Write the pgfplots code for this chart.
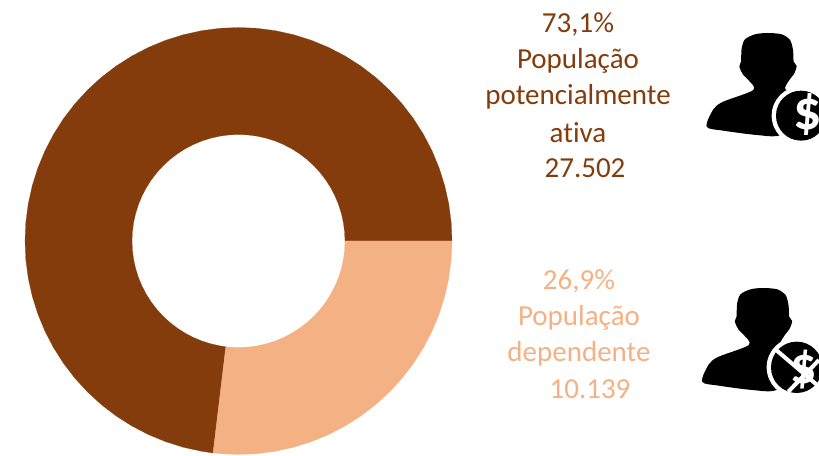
\documentclass[border=0pt]{standalone}
\usepackage{pgfplots}
\pgfplotsset{compat=1.18}
\usepackage{fontspec}
\setmainfont{Carlito}[Ligatures=NoCommon]
\definecolor{dk}{HTML}{843C0C}
\definecolor{lt}{HTML}{F4B183}
% icon drawn in 3x zoom units; #1,#2 = image pixel origin in axis coordinates
\newcommand{\person}[2]{%
\begin{scope}[shift={(axis cs:#1,#2)},x=0.3333pt,y=-0.3333pt]
\fill[black] plot[smooth cycle,tension=0.5] coordinates {(232,39)(275,43)(300,60)(309,90)(311,125)(320,138)(312,162)(298,180)(286,208)(330,225)(340,300)(270,346)(200,345)(100,332)(50,320)(70,268)(100,245)(190,210)(175,180)(160,165)(148,140)(153,125)(155,85)(165,58)(195,43)};
\end{scope}}
\begin{document}
\begin{tikzpicture}
\begin{axis}[width=819pt,height=455pt,scale only axis,hide axis,
  xmin=-238.5,xmax=580.5,ymin=-214,ymax=241,clip=true]
\path (rel axis cs:0,0) rectangle (rel axis cs:1,1);
% 73,1 %
\addplot[fill=dk,draw=dk,line width=0.2pt,data cs=polar] coordinates {
(0,213.5)(5,213.5)(10,213.5)(15,213.5)(20,213.5)(25,213.5)(30,213.5)(35,213.5)(40,213.5)(45,213.5)(50,213.5)(55,213.5)(60,213.5)(65,213.5)(70,213.5)(75,213.5)(80,213.5)(85,213.5)(90,213.5)(95,213.5)(100,213.5)(105,213.5)(110,213.5)(115,213.5)(120,213.5)(125,213.5)(130,213.5)(135,213.5)(140,213.5)(145,213.5)(150,213.5)(155,213.5)(160,213.5)(165,213.5)(170,213.5)(175,213.5)(180,213.5)(185,213.5)(190,213.5)(195,213.5)(200,213.5)(205,213.5)(210,213.5)(215,213.5)(220,213.5)(225,213.5)(230,213.5)(235,213.5)(240,213.5)(245,213.5)(250,213.5)(255,213.5)(260,213.5)(263.16,213.5)
(263.16,106.5)(260,106.5)(255,106.5)(250,106.5)(245,106.5)(240,106.5)(235,106.5)(230,106.5)(225,106.5)(220,106.5)(215,106.5)(210,106.5)(205,106.5)(200,106.5)(195,106.5)(190,106.5)(185,106.5)(180,106.5)(175,106.5)(170,106.5)(165,106.5)(160,106.5)(155,106.5)(150,106.5)(145,106.5)(140,106.5)(135,106.5)(130,106.5)(125,106.5)(120,106.5)(115,106.5)(110,106.5)(105,106.5)(100,106.5)(95,106.5)(90,106.5)(85,106.5)(80,106.5)(75,106.5)(70,106.5)(65,106.5)(60,106.5)(55,106.5)(50,106.5)(45,106.5)(40,106.5)(35,106.5)(30,106.5)(25,106.5)(20,106.5)(15,106.5)(10,106.5)(5,106.5)(0,106.5)} --cycle;
% 26,9 %
\addplot[fill=lt,draw=lt,line width=0.2pt,data cs=polar] coordinates {
(263.16,213.5)(265,213.5)(270,213.5)(275,213.5)(280,213.5)(285,213.5)(290,213.5)(295,213.5)(300,213.5)(305,213.5)(310,213.5)(315,213.5)(320,213.5)(325,213.5)(330,213.5)(335,213.5)(340,213.5)(345,213.5)(350,213.5)(355,213.5)(360,213.5)
(360,106.5)(355,106.5)(350,106.5)(345,106.5)(340,106.5)(335,106.5)(330,106.5)(325,106.5)(320,106.5)(315,106.5)(310,106.5)(305,106.5)(300,106.5)(295,106.5)(290,106.5)(285,106.5)(280,106.5)(275,106.5)(270,106.5)(265,106.5)(263.16,106.5)} --cycle;
% texts (x = px-238.5, y = 241-px)
\pgfkeys{/tikz/lab/.style={font=\fontsize{29}{29}\selectfont,inner sep=0pt,anchor=center}}
\node[lab,text=dk] at (axis cs:339.5,216.5) {73,1\%};
\node[lab,text=dk] at (axis cs:339.5,180.5) {População};
\node[lab,text=dk] at (axis cs:339.5,144.5) {potencialmente};
\node[lab,text=dk] at (axis cs:339.5,108.5) {ativa};
\node[lab,text=dk] at (axis cs:346.5,72.5) {27.502};
\node[lab,text=lt] at (axis cs:340.5,-40.5) {26,9\%};
\node[lab,text=lt] at (axis cs:340.5,-76.5) {População};
\node[lab,text=lt] at (axis cs:340.5,-112.5) {dependente};
\node[lab,text=lt] at (axis cs:351.5,-148) {10.139};
% icons
\person{451.5}{221}
\begin{scope}[shift={(axis cs:451.5,221)},x=0.3333pt,y=-0.3333pt]
\fill[white] (333,287) circle[radius=88];
\fill[black] (333,287) circle[radius=75];
\node[text=white,font=\bfseries\fontsize{56}{56}\selectfont,inner sep=0pt] at (352,285) {\$};
\end{scope}
\person{447}{-34}
\begin{scope}[shift={(axis cs:451.5,-34)},x=0.3333pt,y=-0.3333pt]
\fill[white] (320,277) circle[radius=90];
\fill[black] (320,277) circle[radius=77];
\node[text=white,font=\bfseries\fontsize{52}{52}\selectfont,inner sep=0pt] at (340,285) {\$};
\draw[white,line width=4pt] (255,222)--(387,335);
\draw[white,line width=4pt] (295,350)--(387,255);
\end{scope}
\end{axis}
\end{tikzpicture}
\end{document}
